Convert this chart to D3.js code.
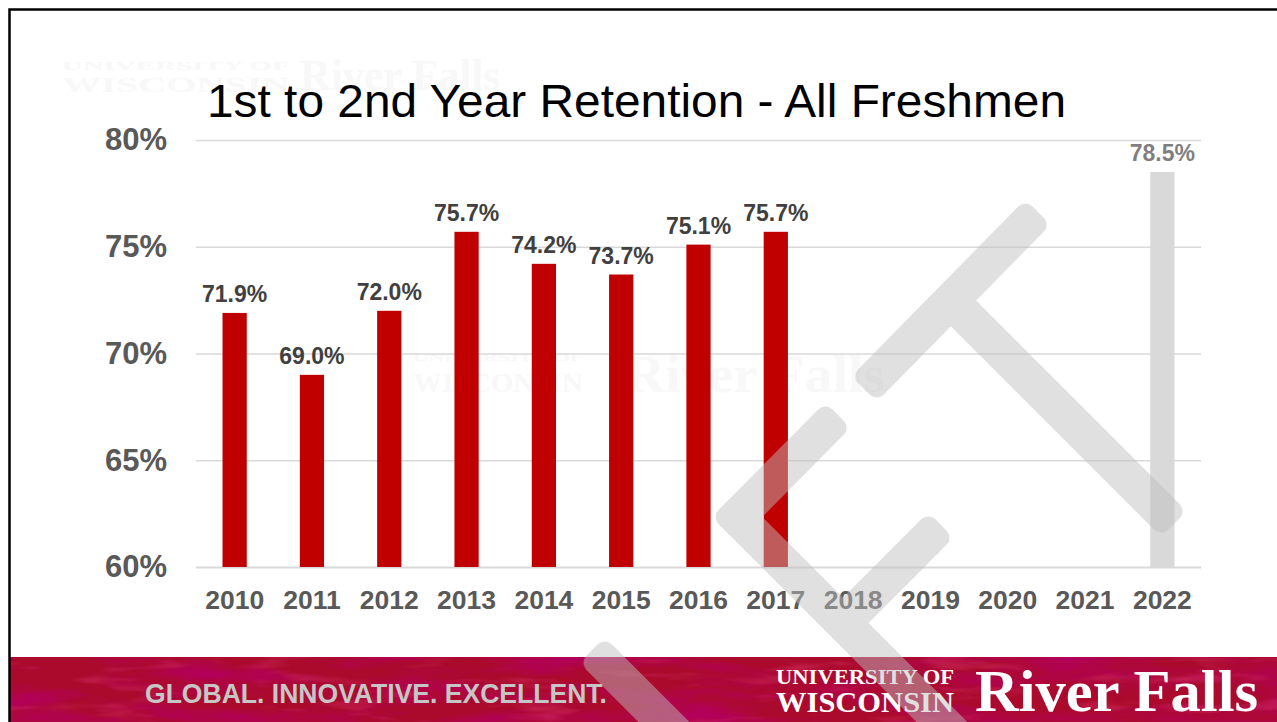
<!DOCTYPE html>
<html>
<head>
<meta charset="utf-8">
<script src="https://cdn.jsdelivr.net/npm/d3@7"></script>
<style>
  html, body { margin: 0; padding: 0; background: #ffffff; }
  svg { display: block; }
</style>
</head>
<body>
<svg id="slide" width="1277" height="722"></svg>
<script>
// ---- data -------------------------------------------------------------
const years        = ["2010","2011","2012","2013","2014","2015","2016","2017","2018","2019","2020","2021","2022"];
const actualYears  = ["2010","2011","2012","2013","2014","2015","2016","2017"];
const actualValues = [71.9, 69.0, 72.0, 75.7, 74.2, 73.7, 75.1, 75.7];
const goalYears    = ["2022"];
const goalValues   = [78.5];
const yTicks       = [60, 65, 70, 75, 80];
const titleText    = "1st to 2nd Year Retention - All Freshmen";
const tagline      = "GLOBAL. INNOVATIVE. EXCELLENT.";

const SANS  = "'Liberation Sans', Arial, Helvetica, sans-serif";
const SERIF = "'Liberation Serif', 'Times New Roman', serif";

const svg = d3.select("#slide");
const defs = svg.append("defs");

// ---- scales -----------------------------------------------------------
const plot = { left: 196, right: 1201, top: 140, bottom: 567 };
const x = d3.scaleBand()
  .domain(years)
  .range([plot.left, plot.right])
  .paddingInner(0.6865)
  .paddingOuter(0.343);
const y = d3.scaleLinear().domain([60, 80]).range([plot.bottom, plot.top]);

// ---- faint logo watermark behind the content ---------------------------
const ghost = svg.append("g").attr("fill", "#f8f8f8").attr("font-family", SERIF).attr("font-weight", "bold");
ghost.append("text").attr("x", 62).attr("y", 70).attr("font-size", 13).attr("textLength", 228).attr("lengthAdjust", "spacingAndGlyphs").text("UNIVERSITY OF");
ghost.append("text").attr("x", 62).attr("y", 92).attr("font-size", 22).attr("textLength", 228).attr("lengthAdjust", "spacingAndGlyphs").text("WISCONSIN");
ghost.append("text").attr("x", 300).attr("y", 90).attr("font-size", 44).attr("textLength", 200).attr("lengthAdjust", "spacingAndGlyphs").text("River Falls");
ghost.append("text").attr("x", 413).attr("y", 361).attr("font-size", 10).attr("textLength", 170).attr("lengthAdjust", "spacingAndGlyphs").text("UNIVERSITY OF");
ghost.append("text").attr("x", 413).attr("y", 392).attr("font-size", 28).attr("textLength", 170).attr("lengthAdjust", "spacingAndGlyphs").text("WISCONSIN");
ghost.append("text").attr("x", 625).attr("y", 392).attr("font-size", 52).attr("textLength", 260).attr("lengthAdjust", "spacingAndGlyphs").text("River Falls");

// ---- title ------------------------------------------------------------
svg.append("text")
  .attr("x", 207).attr("y", 117)
  .attr("font-family", SANS).attr("font-size", 47).attr("fill", "#000")
  .attr("textLength", 859).attr("lengthAdjust", "spacingAndGlyphs")
  .text(titleText);

// ---- y axis with gridlines --------------------------------------------
const yAxis = svg.append("g")
  .attr("transform", `translate(${plot.left},0)`)
  .call(d3.axisLeft(y)
    .tickValues(yTicks)
    .tickSize(-(plot.right - plot.left))
    .tickPadding(29)
    .tickFormat(d => d + "%"));
yAxis.select(".domain").remove();
yAxis.selectAll(".tick line").attr("stroke", "#d9d9d9").attr("stroke-width", 1.4);
yAxis.selectAll(".tick text")
  .attr("font-family", SANS).attr("font-weight", "bold").attr("font-size", 31)
  .attr("fill", "#595959");
yAxis.selectAll(".tick").filter(d => d === 60).select("line").attr("stroke-width", 2);

// ---- x axis -----------------------------------------------------------
const xAxis = svg.append("g")
  .attr("transform", `translate(0,${plot.bottom})`)
  .call(d3.axisBottom(x).tickSize(0).tickPadding(23));
xAxis.select(".domain").remove();
xAxis.selectAll(".tick text")
  .attr("font-family", SANS).attr("font-weight", "bold").attr("font-size", 26.5)
  .attr("fill", "#595959");

// ---- bars -------------------------------------------------------------
const actual = actualYears.map((yr, i) => ({ year: yr, value: actualValues[i] }));
const goal   = goalYears.map((yr, i) => ({ year: yr, value: goalValues[i] }));

svg.append("g").selectAll("rect").data(actual).join("rect")
  .attr("x", d => x(d.year)).attr("width", x.bandwidth())
  .attr("y", d => y(d.value)).attr("height", d => y(60) - y(d.value))
  .attr("fill", "#c00000");

svg.append("g").selectAll("rect").data(goal).join("rect")
  .attr("x", d => x(d.year)).attr("width", x.bandwidth())
  .attr("y", d => y(d.value)).attr("height", d => y(60) - y(d.value))
  .attr("fill", "#d9d9d9");

// ---- value labels -----------------------------------------------------
const labelFmt = d3.format(".1f");
svg.append("g").selectAll("text").data(actual).join("text")
  .attr("x", d => x(d.year) + x.bandwidth() / 2)
  .attr("y", d => y(d.value) - 11)
  .attr("text-anchor", "middle")
  .attr("font-family", SANS).attr("font-weight", "bold").attr("font-size", 23)
  .attr("fill", "#404040")
  .text(d => labelFmt(d.value) + "%");

svg.append("g").selectAll("text").data(goal).join("text")
  .attr("x", d => x(d.year) + x.bandwidth() / 2)
  .attr("y", d => y(d.value) - 11)
  .attr("text-anchor", "middle")
  .attr("font-family", SANS).attr("font-weight", "bold").attr("font-size", 23)
  .attr("fill", "#7f7f7f")
  .text(d => labelFmt(d.value) + "%");

// ---- footer band ------------------------------------------------------
const grainDark = defs.append("filter").attr("id", "grainDark")
  .attr("x", 0).attr("y", 0).attr("width", "100%").attr("height", "100%");
grainDark.append("feTurbulence").attr("type", "fractalNoise")
  .attr("baseFrequency", "0.008 0.045").attr("numOctaves", 4).attr("seed", 7);
grainDark.append("feColorMatrix").attr("type", "matrix")
  .attr("values", "0 0 0 0 0.45  0 0 0 0 0  0 0 0 0 0.1  2.4 0 0 0 -1.0");

const grainLight = defs.append("filter").attr("id", "grainLight")
  .attr("x", 0).attr("y", 0).attr("width", "100%").attr("height", "100%");
grainLight.append("feTurbulence").attr("type", "fractalNoise")
  .attr("baseFrequency", "0.012 0.07").attr("numOctaves", 3).attr("seed", 23);
grainLight.append("feColorMatrix").attr("type", "matrix")
  .attr("values", "0 0 0 0 0.82  0 0 0 0 0.06  0 0 0 0 0.22  1.2 0 0 0 -0.7");

const footer = svg.append("g");
footer.append("rect").attr("x", 9).attr("y", 657).attr("width", 1268).attr("height", 65).attr("fill", "#ab0a2d");
footer.append("rect").attr("x", 9).attr("y", 657).attr("width", 1268).attr("height", 65).attr("filter", "url(#grainDark)");
footer.append("rect").attr("x", 9).attr("y", 657).attr("width", 1268).attr("height", 65).attr("filter", "url(#grainLight)");

footer.append("text")
  .attr("x", 145).attr("y", 703)
  .attr("font-family", SANS).attr("font-weight", "bold").attr("font-size", 27)
  .attr("textLength", 462).attr("lengthAdjust", "spacingAndGlyphs")
  .attr("fill", "#c6c6c6")
  .text(tagline);

footer.append("text")
  .attr("x", 776).attr("y", 684)
  .attr("font-family", SERIF).attr("font-weight", "bold").attr("font-size", 21)
  .attr("textLength", 178).attr("lengthAdjust", "spacingAndGlyphs")
  .attr("fill", "#ffffff").text("UNIVERSITY OF");
footer.append("text")
  .attr("x", 776).attr("y", 712)
  .attr("font-family", SERIF).attr("font-weight", "bold").attr("font-size", 29)
  .attr("textLength", 178).attr("lengthAdjust", "spacingAndGlyphs")
  .attr("fill", "#ffffff").text("WISCONSIN");
footer.append("text")
  .attr("x", 975).attr("y", 711)
  .attr("font-family", SERIF).attr("font-weight", "bold").attr("font-size", 59)
  .attr("textLength", 283).attr("lengthAdjust", "spacingAndGlyphs")
  .attr("fill", "#ffffff").text("River Falls");

// ---- slide frame ------------------------------------------------------
svg.append("path")
  .attr("d", "M9.5,722 V9.5 H1277")
  .attr("fill", "none").attr("stroke", "#000").attr("stroke-width", 2.5);

// ---- translucent monogram drawn over everything -------------------------
const strokeW = 36;
const strokes = [
  [[1038, 212], [864, 389]],          // upper cross bar
  [[951, 301], [1174, 524]],          // its stem
  [[838, 415], [724.3, 529.7]],       // chevron upper arm (runs past the corner)
  [[724.3, 504.3], [960, 740]],       // chevron lower arm (runs past the corner)
  [[941, 525], [843, 623]],           // stem meeting the lower arm
  [[592, 650], [720, 778]]            // bottom stroke
];
const mono = svg.append("g").attr("opacity", 0.48).attr("fill", "#bebebe");
strokes.forEach(([p1, p2]) => {
  const dx = p2[0] - p1[0], dy = p2[1] - p1[1];
  const len = Math.hypot(dx, dy);
  const ang = Math.atan2(dy, dx) * 180 / Math.PI;
  mono.append("rect")
    .attr("x", 0).attr("y", -strokeW / 2)
    .attr("width", len).attr("height", strokeW)
    .attr("rx", 10).attr("ry", 10)
    .attr("transform", `translate(${p1[0]},${p1[1]}) rotate(${ang})`);
});
</script>
</body>
</html>
